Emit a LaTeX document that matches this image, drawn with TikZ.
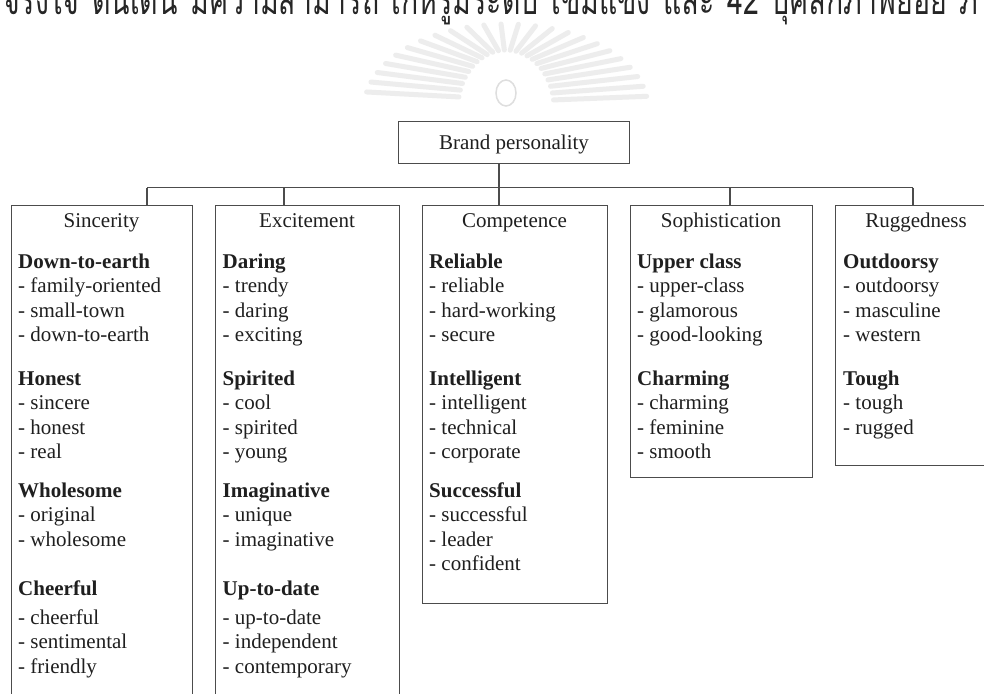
\documentclass[tikz,border=0pt]{standalone}
\usepackage{fontspec}
\usepackage{graphicx}
\usetikzlibrary{calc}
\setmainfont{Liberation Serif}
\newfontfamily\thaifont[Script=Thai]{Loma}
\begin{document}
\begin{tikzpicture}[x=1pt,y=-1pt,
  frame/.style={draw=black!70, line width=1.4pt},
  catbox/.style={frame, anchor=north west, inner sep=0pt},
  brandbox/.style={frame, anchor=north west, inner sep=0pt},
  txt/.style={inner sep=0pt, font=\fontsize{21}{24}\selectfont, text=black!88},
  head/.style={txt, anchor=base},
  item/.style={txt, anchor=base west},
  link/.style={draw=black!70, line width=1.4pt},
  ray/.style={line width=5pt, line cap=round, draw=black!7}]
\useasboundingbox (0,0) rectangle (984,693);
\fill[white] (0,0) rectangle (984,693);
\begin{scope}
\clip (0,0) rectangle (984,693);

% caption line running across the top edge
\node[anchor=base west, inner sep=0pt, text=black!85] (caption) at (3,15)
  {\scalebox{0.71}[1]{\thaifont\fontsize{40}{44}\selectfont\spaceskip=18pt จริงใจ ตื่นเต้น มีความสามารถ เก๋หรูมีระดับ เข้มแข็ง และ 42 บุคลิกภาพย่อย ภาพที่}};

% faint emblem behind the title box
\coordinate (sun) at (506,108);
\foreach \a in {8,15,...,172} {
  \draw[ray] ($(sun)+({48*cos(\a)},{-58*sin(\a)})$) -- ($(sun)+({142*cos(\a)},{-84*sin(\a)})$);
}
\draw[black!13, line width=1.5pt] (506,93) ellipse [x radius=10pt, y radius=13pt];

% title box
\node[brandbox, minimum width=231pt, minimum height=42pt] (brand) at (398,121) {};
\node[head] (brandtxt) at (514,149.5) {Brand personality};

% category boxes
\node[catbox, minimum width=181pt, minimum height=500pt] (sinc) at (11,205) {};
\node[catbox, minimum width=184pt, minimum height=500pt] (exci) at (215,205) {};
\node[catbox, minimum width=185pt, minimum height=398pt] (comp) at (422,205) {};
\node[catbox, minimum width=182pt, minimum height=272pt] (soph) at (630,205) {};
\node[catbox, minimum width=163pt, minimum height=260pt] (rugg) at (835,205) {};

% connectors
\coordinate (hub) at (499,187.5);
\coordinate (d1) at (147,187.5);
\coordinate (d2) at (284,187.5);
\coordinate (d4) at (730,187.5);
\coordinate (d5) at (913,187.5);
\draw[link] (hub |- brand.south) -- (hub |- comp.north);
\draw[link] (d1) -- (d5);
\draw[link] (d1) -- (d1 |- sinc.north);
\draw[link] (d2) -- (d2 |- exci.north);
\draw[link] (d4) -- (d4 |- soph.north);
\draw[link] (d5) -- (d5 |- rugg.north);

% headings
\node[head] (sinch) at (101.5,227) {Sincerity};
\node[head] (excih) at (307,227) {Excitement};
\node[head] (comph) at (514.5,227) {Competence};
\node[head] (sophh) at (721,227) {Sophistication};
\node[head] (ruggh) at (916,227) {Ruggedness};

% facet lists
\foreach \y/\t [count=\i] in {
  268/\textbf{Down-to-earth}, 292.5/- family-oriented, 317/- small-town, 341.5/- down-to-earth,
  385/\textbf{Honest}, 409.5/- sincere, 434/- honest, 458.5/- real,
  497/\textbf{Wholesome}, 521.5/- original, 546/- wholesome,
  595/\textbf{Cheerful}, 624/- cheerful, 648.5/- sentimental, 673/- friendly}
  \node[item] (sinc-\i) at (18,\y) {\t};

\foreach \y/\t [count=\i] in {
  268/\textbf{Daring}, 292.5/- trendy, 317/- daring, 341.5/- exciting,
  385/\textbf{Spirited}, 409.5/- cool, 434/- spirited, 458.5/- young,
  497/\textbf{Imaginative}, 521.5/- unique, 546/- imaginative,
  595/\textbf{Up-to-date}, 624/- up-to-date, 648.5/- independent, 673/- contemporary}
  \node[item] (exci-\i) at (222.5,\y) {\t};

\foreach \y/\t [count=\i] in {
  268/\textbf{Reliable}, 292.5/- reliable, 317/- hard-working, 341.5/- secure,
  385/\textbf{Intelligent}, 409.5/- intelligent, 434/- technical, 458.5/- corporate,
  497/\textbf{Successful}, 521.5/- successful, 546/- leader, 570.5/- confident}
  \node[item] (comp-\i) at (429,\y) {\t};

\foreach \y/\t [count=\i] in {
  268/\textbf{Upper class}, 292.5/- upper-class, 317/- glamorous, 341.5/- good-looking,
  385/\textbf{Charming}, 409.5/- charming, 434/- feminine, 458.5/- smooth}
  \node[item] (soph-\i) at (637,\y) {\t};

\foreach \y/\t [count=\i] in {
  268/\textbf{Outdoorsy}, 292.5/- outdoorsy, 317/- masculine, 341.5/- western,
  385/\textbf{Tough}, 409.5/- tough, 434/- rugged}
  \node[item] (rugg-\i) at (843,\y) {\t};
\end{scope}
\end{tikzpicture}
\end{document}
